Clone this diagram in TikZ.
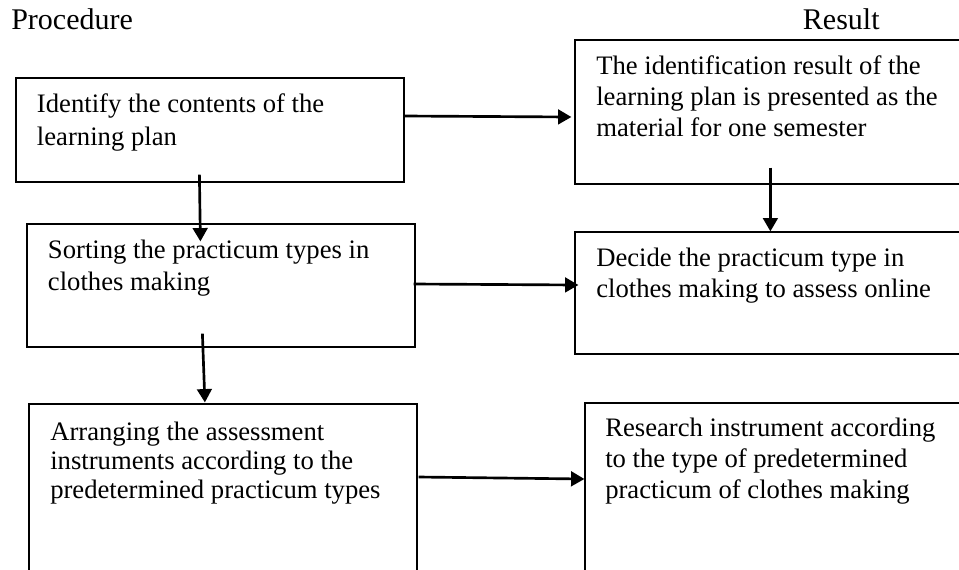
\documentclass[tikz,border=0pt]{standalone}
\usepackage{fontspec}
\setmainfont{Liberation Serif}
\usetikzlibrary{arrows.meta,calc,fit}
\begin{document}
\begin{tikzpicture}[x=0.75pt,y=-0.75pt,
  box/.style={draw,line width=0.9pt,inner sep=0pt},
  txt/.style={anchor=base west,inner sep=0pt,align=left,font=\fontsize{20}{#1}\selectfont},
  head/.style={anchor=base west,inner sep=0pt,font=\fontsize{22.5}{27}\selectfont},
  arr/.style={line width=2pt,-{Triangle[length=10pt,width=11pt]}}]
\useasboundingbox (0,0) rectangle (959,569);
\clip (0,0) rectangle (959,569);
% headers
\node[head] (hp) at (11,29.3) {Procedure};
\node[head] (hr) at (802.7,29.3) {Result};
% boxes
\node[box, fit={(16,78) (404,182)}] (b1) {};
\node[box, fit={(575,40) (990,184)}] (r1) {};
\node[box, fit={(27,224) (415,347)}] (b2) {};
\node[box, fit={(575,232) (990,354)}] (r2) {};
\node[box, fit={(29,404) (417,600)}] (b3) {};
\node[box, fit={(585,403) (990,600)}] (r3) {};
% texts (anchored at the baseline of the last line)
\node[txt=24.75pt] (t1) at (36.7,145) {Identify the contents of the\\learning plan};
\node[txt=23.25pt] (s1) at (596,136.5) {The identification result of the\\learning plan is presented as the\\material for one semester};
\node[txt=24pt] (t2) at (47.7,290) {Sorting the practicum types in\\clothes making};
\node[txt=23.25pt] (s2) at (596,297) {Decide the practicum type in\\clothes making to assess online};
\node[txt=21.75pt] (t3) at (50,498) {Arranging the assessment\\instruments according to the\\predetermined practicum types};
\node[txt=23.25pt] (s3) at (605,498) {Research instrument according\\to the type of predetermined\\practicum of clothes making};
% connectors
\draw[arr] (b1.east |- 0,116) -- ($(r1.west |- 0,117)+(-3,0)$);
\draw[arr] ($(b1.south west)+(184,-8)$) -- ($(b2.north west)+(174,18)$);
\draw[arr] ($(r1.south west)+(196,-17)$) -- ($(r2.north west)+(196,0)$);
\draw[arr] ($(b2.east |- 0,284)+(-2,0)$) -- ($(r2.west |- 0,285)+(4,0)$);
\draw[arr] ($(b2.south west)+(176,-14)$) -- ($(b3.north west)+(176.5,-1)$);
\draw[arr] ($(b3.east |- 0,477)+(1,0)$) -- (r3.west |- 0,479);
\end{tikzpicture}
\end{document}
